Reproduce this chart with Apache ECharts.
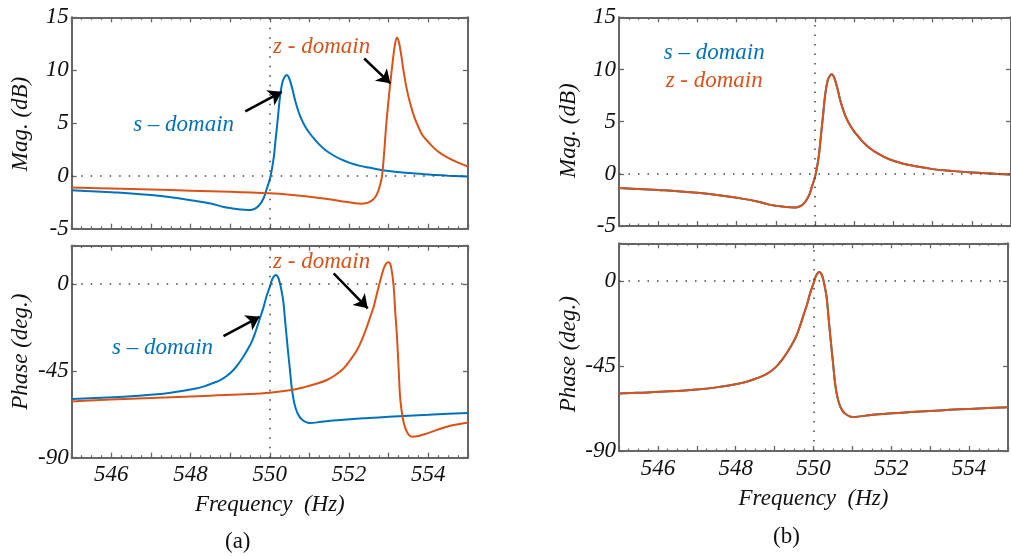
<!DOCTYPE html>
<html>
<head>
<meta charset="utf-8">
<script src="https://cdn.jsdelivr.net/npm/echarts@6/dist/echarts.min.js"></script>
<style>
html,body{margin:0;padding:0;background:#fff;}
#chart{width:1011px;height:556px;}
</style>
</head>
<body>
<div id="chart"></div>
<script>
// ---- Data (frequency Hz, value) ----
const freqTicks = [546, 548, 550, 552, 554];
const magTicks = [-5, 0, 5, 10, 15];
const phaseTicks = [-90, -45, 0];

// s-domain magnitude (dB)
const sMag = [
  [545.0,-1.37],[545.5,-1.45],[546.0,-1.55],[546.5,-1.66],[547.0,-1.82],[547.5,-2.02],
  [548.0,-2.3],[548.5,-2.62],[548.84,-2.95],[549.0,-3.05],[549.25,-3.18],[549.45,-3.23],
  [549.55,-3.2],[549.65,-3.05],[549.75,-2.7],[549.85,-2.05],[549.92,-1.25],[550.0,-0.3],
  [550.05,0.6],[550.1,1.8],[550.15,3.6],[550.2,5.4],[550.26,7.6],[550.32,8.9],[550.38,9.4],
  [550.43,9.55],[550.48,9.3],[550.53,8.75],[550.58,8.05],[550.64,7.1],[550.7,6.35],[550.78,5.5],
  [550.88,4.75],[551.0,4.05],[551.1,3.6],[551.25,2.95],[551.4,2.45],[551.6,1.95],[551.8,1.55],[552.0,1.25],
  [552.25,0.97],[552.5,0.78],[553.0,0.45],[553.5,0.27],[554.0,0.12],[554.5,0.02],[555.0,-0.07]
];
// z-domain magnitude (dB), panel (a)
const zMagA = [
  [545.0,-1.1],[546.0,-1.2],[547.0,-1.3],[548.0,-1.4],[549.0,-1.5],[550.0,-1.65],[550.5,-1.78],
  [551.0,-1.98],[551.5,-2.22],[551.8,-2.4],[552.0,-2.5],[552.15,-2.6],[552.3,-2.64],[552.42,-2.6],
  [552.52,-2.45],[552.6,-2.25],[552.67,-1.95],[552.73,-1.5],[552.78,-0.9],[552.83,0.0],[552.88,2.0],
  [552.93,4.5],[552.98,6.6],[553.04,8.75],[553.1,10.8],[553.16,12.5],[553.21,13.1],[553.26,12.6],
  [553.32,11.3],[553.37,10.0],[553.45,8.3],[553.54,6.86],[553.65,5.5],[553.8,4.2],[553.88,3.7],
  [554.0,3.2],[554.15,2.6],[554.3,2.15],[554.5,1.7],[554.75,1.25],[555.0,0.88]
];
// s-domain phase (deg)
const sPhase = [
  [545.0,-59.6],[545.46,-59.2],[546.3,-58.4],[547.15,-57.1],[547.5,-56.3],[547.82,-55.3],
  [548.1,-54.2],[548.32,-53.1],[548.55,-51.4],[548.75,-49.7],[548.92,-47.5],[549.08,-44.5],
  [549.2,-41.5],[549.33,-37.6],[549.45,-33.5],[549.55,-29.5],[549.65,-24.0],[549.76,-17.0],
  [549.84,-12.0],[549.92,-6.0],[550.0,-1.3],[550.07,3.0],[550.15,4.8],[550.21,3.5],[550.26,0.0],
  [550.3,-4.0],[550.34,-9.0],[550.39,-20.0],[550.45,-33.0],[550.5,-43.0],[550.56,-55.0],
  [550.62,-62.0],[550.7,-67.0],[550.8,-70.0],[551.0,-72.0],[551.3,-71.4],[551.6,-70.7],
  [552.03,-70.0],[552.5,-69.4],[553.0,-68.8],[553.5,-68.2],[554.0,-67.7],[554.5,-67.2],[555.0,-66.8]
];
// z-domain phase (deg), panel (a)
const zPhaseA = [
  [545.0,-60.8],[545.46,-60.3],[546.5,-59.4],[547.5,-58.6],[548.5,-57.8],[549.5,-57.0],[550.0,-56.3],
  [550.5,-55.0],[550.85,-53.5],[551.15,-51.8],[551.44,-49.7],[551.66,-47.0],[551.86,-43.7],
  [552.03,-39.3],[552.2,-34.1],[552.34,-28.0],[552.45,-22.0],[552.54,-16.5],[552.62,-11.7],
  [552.7,-5.0],[552.8,3.0],[552.87,8.0],[552.93,10.6],[552.99,11.4],[553.05,9.8],[553.12,-0.4],
  [553.16,-13.0],[553.21,-28.0],[553.25,-44.0],[553.29,-59.2],[553.35,-69.0],[553.42,-74.8],
  [553.5,-78.0],[553.59,-79.1],[553.75,-78.7],[553.97,-77.4],[554.2,-75.7],[554.47,-73.9],
  [554.75,-72.6],[555.0,-71.7]
];
// panel (b): z-domain coincides with s-domain
const zMagB = sMag;
const zPhaseB = sPhase;

// ---- Styling ----
const BLUE = '#0072BD', ORANGE = '#D95319';
const FONT = 'Liberation Serif';
const AX = '#666';

const grids = [
  {left:71.7, top:17.3, width:396.3, height:211.4},
  {left:71.7, top:245.7, width:396.3, height:212},
  {left:619, top:17.3, width:403, height:208.7},
  {left:619, top:243.3, width:403, height:207.7}
];

const txt = {fontFamily:FONT, fontStyle:'italic', fontSize:23, color:'#111'};

function xAxes(gi, labels) {
  const base = {
    type:'value', gridIndex:gi, min:545, max:555, interval:1,
    axisLine:{show:true, onZero:false, lineStyle:{color:AX, width:2}},
    axisTick:{show:true, inside:true, length:5, lineStyle:{color:AX, width:1.3}},
    minorTick:{show:true, splitNumber:4, length:2.5, lineStyle:{color:AX, width:1.2}},
    splitLine:{show:false}, minorSplitLine:{show:false}
  };
  return [
    Object.assign({}, base, {
      position:'bottom',
      axisLabel:Object.assign({show:labels, margin:6,
        formatter: v => freqTicks.indexOf(v) >= 0 ? String(v) : ''}, txt),
      name: labels ? 'Frequency  (Hz)' : '', nameLocation:'middle', nameGap:36,
      nameTextStyle:Object.assign({}, txt, {fontSize:23})
    }),
    Object.assign({}, base, {position:'top', axisLabel:{show:false}})
  ];
}
function yAxes(gi, isMag, shiftDown) {
  const base = {
    type:'value', gridIndex:gi,
    min: isMag ? -5 : -90, max: isMag ? 15 : 20, interval: isMag ? 5 : 45,
    axisLine:{show:true, onZero:false, lineStyle:{color:AX, width:2}},
    axisTick:{show:true, inside:true, length:5, lineStyle:{color:AX, width:1.3}},
    splitLine:{show:false}
  };
  const ticks = isMag ? magTicks : phaseTicks;
  return [
    Object.assign({}, base, {
      position:'left',
      axisLabel:Object.assign({show:true, margin:3,
        formatter: v => ticks.indexOf(v) >= 0 ? String(v) : ''}, txt),
      name: isMag ? 'Mag. (dB)' : 'Phase (deg.)', nameLocation:'middle', nameGap:39,
      nameTextStyle:Object.assign({}, txt, {fontSize:23, padding:[0, shiftDown*2, 0, 0]})
    }),
    Object.assign({}, base, {position:'right', axisLabel:{show:false}})
  ];
}

const refLines = {
  silent:true, symbol:['none','none'], label:{show:false},
  lineStyle:{type:[1.5,8], color:'#444', width:1.5},
  emphasis:{disabled:true},
  data:[{xAxis:550},{yAxis:0}]
};
function arrows(list) {
  return {
    silent:true, symbol:['none','arrow'], symbolSize:13, label:{show:false},
    lineStyle:{type:'solid', color:'#000', width:2.5}, emphasis:{disabled:true},
    data: list.map(a => [{coord:a[0]},{coord:a[1]}])
  };
}
function texts(list) {
  return {
    silent:true, symbol:'circle', symbolSize:0,
    label:{show:true, position:'right', distance:0, fontFamily:FONT, fontStyle:'italic', fontSize:23},
    data: list.map(t => ({coord:t.c, name:t.s, label:{formatter:t.s, color:t.col}}))
  };
}
function line(name, data, color, gi, extra) {
  return Object.assign({
    type:'line', name, data, xAxisIndex:2*gi, yAxisIndex:2*gi,
    showSymbol:false, smooth:0.4, clip:true,
    lineStyle:{color, width:2}, itemStyle:{color}
  }, extra || {});
}

const option = {
  animation:false,
  backgroundColor:'#fff',
  grid: grids,
  xAxis: [].concat(xAxes(0,false), xAxes(1,true), xAxes(2,false), xAxes(3,true)),
  yAxis: [].concat(yAxes(0,true,1), yAxes(1,false,0), yAxes(2,true,9), yAxes(3,false,7)),
  series: [
    line('s-domain', sMag, BLUE, 0, {markLine:refLines}),
    line('z-domain', zMagA, ORANGE, 0, {
      markLine: arrows([[[549.38,6.1],[550.3,7.95]], [[552.38,11.1],[553.04,8.75]]]),
      markPoint: texts([{c:[546.55,4.8], s:'s – domain', col:BLUE}, {c:[550.08,12.2], s:'z - domain', col:ORANGE}])
    }),
    line('s-domain', sPhase, BLUE, 1, {markLine:refLines}),
    line('z-domain', zPhaseA, ORANGE, 1, {
      markLine: arrows([[[548.83,-26.9],[549.74,-16.9]], [[551.61,5.6],[552.47,-12.5]]]),
      markPoint: texts([{c:[546.02,-33.1], s:'s – domain', col:BLUE}, {c:[550.08,11.5], s:'z - domain', col:ORANGE}])
    }),
    line('s-domain', sMag, BLUE, 2, {markLine:refLines}),
    line('z-domain', zMagB, ORANGE, 2, {
      markPoint: texts([{c:[546.14,11.6], s:'s – domain', col:BLUE}, {c:[546.19,8.9], s:'z - domain', col:ORANGE}])
    }),
    line('s-domain', sPhase, BLUE, 3, {markLine:refLines}),
    line('z-domain', zPhaseB, ORANGE, 3)
  ],
  graphic: [
    {type:'text', left:225, top:530, style:{text:'(a)', fontFamily:FONT, fontSize:23, fill:'#111'}},
    {type:'text', left:773, top:525, style:{text:'(b)', fontFamily:FONT, fontSize:23, fill:'#111'}}
  ]
};

const chart = echarts.init(document.getElementById('chart'), null, {renderer:'canvas'});
chart.setOption(option);
</script>
</body>
</html>
